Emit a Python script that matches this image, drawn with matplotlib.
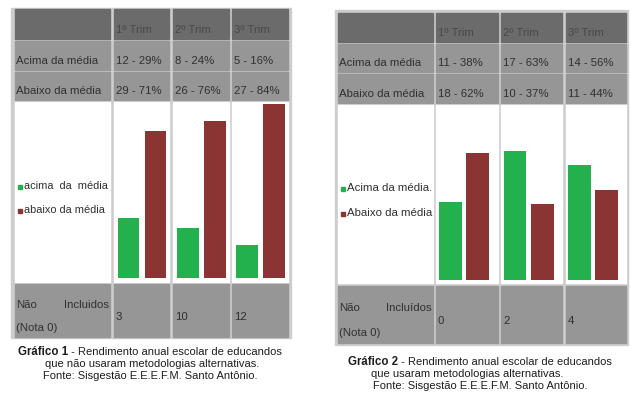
import matplotlib
matplotlib.use("Agg")
import matplotlib.pyplot as plt
from matplotlib.patches import Rectangle

plt.rcParams['font.family'] = ['Liberation Sans', 'DejaVu Sans']

# ---------------- data ----------------
trims = ['1º Trim', '2º Trim', '3º Trim']
row_labels = ['Acima da média', 'Abaixo da média']

g1_above_n = [12, 8, 5]
g1_above_pct = [29, 24, 16]
g1_below_n = [29, 26, 27]
g1_below_pct = [71, 76, 84]
g1_excluded = [3, 10, 12]
g1_legend = ['acima  da  média', 'abaixo da média']
g1_excl_label = 'Incluidos'

g2_above_n = [11, 17, 14]
g2_above_pct = [38, 63, 56]
g2_below_n = [18, 10, 11]
g2_below_pct = [62, 37, 44]
g2_excluded = [0, 2, 4]
g2_legend = ['Acima da média.', 'Abaixo da média']
g2_excl_label = 'Incluídos'

captions1 = ['Gráfico 1', ' - Rendimento anual escolar de educandos',
             'que não usaram metodologias alternativas.',
             'Fonte: Sisgestão E.E.E.F.M. Santo Antônio.']
captions2 = ['Gráfico 2', ' - Rendimento anual escolar de educandos',
             'que usaram metodologias alternativas.',
             'Fonte: Sisgestão E.E.E.F.M. Santo Antônio.']

GREEN = '#22b14c'
RED = '#8b3434'
HEAD = '#6b6b6b'
ROWC = '#969696'
BORDER = '#cdcdcd'
TXT = '#303030'
HTXT = '#484848'
FS = 8.2

W, H = 640, 398
fig = plt.figure(figsize=(6.4, 3.98), dpi=100)
bg = fig.add_axes([0, 0, 1, 1])
bg.set_xlim(0, W)
bg.set_ylim(H, 0)
bg.axis('off')
renderer = fig.canvas.get_renderer()


def px_axes(x0, x1, y0, y1):
    """axes occupying pixel box (y measured from top)"""
    return fig.add_axes([x0 / W, 1 - y1 / H, (x1 - x0) / W, (y1 - y0) / H])


def draw_table(outer, cols, rows, above_n, above_pct, below_n, below_pct,
               excluded, legend, excl_label, baseline, ymax, bar_xlim, bar_w,
               text_dx, legend_y, excl_y, legend_fs):
    ox0, ox1, oy0, oy1 = outer
    bg.add_patch(Rectangle((ox0, oy0), ox1 - ox0, oy1 - oy0, color=BORDER, zorder=0))
    fills = [HEAD, ROWC, ROWC, 'white', ROWC]
    for (ry0, ry1), fc in zip(rows, fills):
        for (cx0, cx1) in cols:
            bg.add_patch(Rectangle((cx0, ry0), cx1 - cx0, ry1 - ry0, color=fc, zorder=1))
    # header
    hy = (rows[0][0] + rows[0][1]) / 2 + 6
    for (cx0, cx1), t in zip(cols[1:], trims):
        bg.text(cx0 + text_dx, hy, t, fontsize=FS, color=HTXT, va='center', ha='left')
    # data rows
    for ri, (lab, ns, ps) in enumerate([(row_labels[0], above_n, above_pct),
                                        (row_labels[1], below_n, below_pct)]):
        ry0, ry1 = rows[ri + 1]
        yc = (ry0 + ry1) / 2 + 5.5
        bg.text(cols[0][0] + 1, yc, lab, fontsize=FS, color=TXT, va='center', ha='left')
        for (cx0, cx1), n, p in zip(cols[1:], ns, ps):
            bg.text(cx0 + text_dx, yc, f'{n} - {p}%', fontsize=FS, color=TXT,
                    va='center', ha='left')
    # legend
    for lab, col, ly in zip(legend, [GREEN, RED], legend_y):
        bg.add_patch(Rectangle((cols[0][0] + 3, ly - 1), 3.5, 3.5, color=col, zorder=2))
        bg.text(cols[0][0] + 9, ly, lab, fontsize=legend_fs, color=TXT, va='center', ha='left')
    # last row
    bg.text(cols[0][0] + 1, excl_y[0], 'Não', fontsize=FS, color=TXT, va='center', ha='left')
    bg.text(cols[0][1] - 1, excl_y[0], excl_label, fontsize=FS, color=TXT, va='center', ha='right')
    bg.text(cols[0][0] + 1, excl_y[2], '(Nota 0)', fontsize=FS, color=TXT, va='center', ha='left')
    for (cx0, cx1), v in zip(cols[1:], excluded):
        bg.text(cx0 + text_dx, excl_y[1], str(v), fontsize=FS, color=TXT, va='center', ha='left')
    # bars
    chart_top = rows[3][0]
    for (cx0, cx1), a, b in zip(cols[1:], above_pct, below_pct):
        ax = px_axes(cx0, cx1, chart_top, baseline)
        ax.bar([0, 1], [a, b], width=bar_w, color=[GREEN, RED])
        ax.set_xlim(*bar_xlim)
        ax.set_ylim(0, ymax)
        ax.axis('off')
        ax.patch.set_alpha(0)


# ---- Table 1 ----
draw_table(outer=(11, 291, 8, 338),
           cols=[(15, 110), (114, 169), (173, 229), (232, 288)],
           rows=[(9, 39), (41, 70), (72, 100), (102, 282), (284, 337)],
           above_n=g1_above_n, above_pct=g1_above_pct,
           below_n=g1_below_n, below_pct=g1_below_pct,
           excluded=g1_excluded, legend=g1_legend, excl_label=g1_excl_label,
           baseline=278, ymax=85, bar_xlim=(-0.537, 1.5), bar_w=0.81,
           text_dx=2, legend_y=[186, 210], excl_y=[305, 317, 328], legend_fs=7.9)

# ---- Table 2 ----
draw_table(outer=(335, 628, 10, 345),
           cols=[(338, 433), (436, 498), (501, 562), (566, 626)],
           rows=[(13, 42), (44, 72), (74, 103), (105, 283), (286, 343)],
           above_n=g2_above_n, above_pct=g2_above_pct,
           below_n=g2_below_n, below_pct=g2_below_pct,
           excluded=g2_excluded, legend=g2_legend, excl_label=g2_excl_label,
           baseline=280, ymax=85.2, bar_xlim=(-0.51, 1.73), bar_w=0.836,
           text_dx=2, legend_y=[188, 213], excl_y=[308, 321, 333], legend_fs=FS)

# ---- captions ----
CFS = 8.0
CCOL = '#1e1e1e'
for caps, x0, xc2, xc3, ys in [(captions1, 18, 152, 150, [352, 364, 376]),
                               (captions2, 348, 467, 480, [362, 374, 386])]:
    tb = bg.text(x0, ys[0], caps[0], fontsize=8.3, fontweight='bold', color=CCOL,
                 va='center', ha='left')
    ext = tb.get_window_extent(renderer=renderer)
    x_end = bg.transData.inverted().transform((ext.x1, ext.y0))[0]
    bg.text(x_end, ys[0], caps[1], fontsize=CFS, color=CCOL, va='center', ha='left')
    bg.text(xc2, ys[1], caps[2], fontsize=CFS, color=CCOL, va='center', ha='center')
    bg.text(xc3, ys[2], caps[3], fontsize=CFS, color=CCOL, va='center', ha='center')

fig.savefig('out.png', dpi=100, facecolor='white')
